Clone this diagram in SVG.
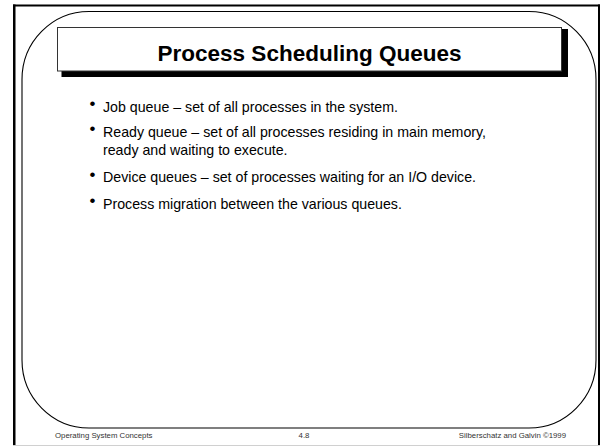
<svg xmlns="http://www.w3.org/2000/svg" width="602" height="446" viewBox="0 0 602 446">
  <style>
    .body { font-family: "Liberation Sans", Arial, sans-serif; font-size: 14.2px; fill: #000; }
    .bul { font-family: "Liberation Sans", Arial, sans-serif; font-size: 17px; fill: #000; }
    .foot { font-family: "Liberation Sans", Arial, sans-serif; font-size: 7.8px; fill: #333; }
    .title { font-family: "Liberation Sans", Arial, sans-serif; font-size: 22.5px; font-weight: bold; fill: #000; }
  </style>
  <rect x="0" y="0" width="602" height="446" fill="#fff"/>

  <!-- page frame -->
  <g id="frame">
    <rect x="13" y="4.5" width="587" height="2" fill="#000"/>
    <rect x="13" y="4.5" width="2.5" height="441.5" fill="#000"/>
    <rect x="598" y="4.5" width="2" height="441.5" fill="#000"/>
    <rect x="13" y="445" width="587" height="1" fill="#d0d0d0"/>
  </g>

  <!-- rounded content panel -->
  <g id="panel">
    <rect x="22" y="11.5" width="574" height="416.5" rx="67" ry="68" fill="none" stroke="#000" stroke-width="1.1"/>
  </g>

  <!-- title box with drop shadow -->
  <g id="title">
    <rect x="61.5" y="29" width="506.5" height="48" fill="#000"/>
    <rect x="57.5" y="27.5" width="504" height="43.5" fill="#fff" stroke="#333" stroke-width="1"/>
    <text class="title" x="309.5" y="60.5" text-anchor="middle">Process Scheduling Queues</text>
  </g>

  <!-- bullet list -->
  <g id="bullets">
    <text class="bul" x="89.5" y="109">•</text>
    <text class="body" x="103" y="111.7">Job queue – set of all processes in the system.</text>
    <text class="bul" x="89.5" y="134">•</text>
    <text class="body" x="103" y="136.7">Ready queue – set of all processes residing in main memory,</text>
    <text class="body" x="103" y="155">ready and waiting to execute.</text>
    <text class="bul" x="89.5" y="179.6">•</text>
    <text class="body" x="103" y="182.3">Device queues – set of processes waiting for an I/O device.</text>
    <text class="bul" x="89.5" y="206.3">•</text>
    <text class="body" x="103" y="209">Process migration between the various queues.</text>
  </g>

  <!-- footer -->
  <g id="footer">
    <text class="foot" x="55" y="438.3">Operating System Concepts</text>
    <text class="foot" x="304" y="438.3" text-anchor="middle">4.8</text>
    <text class="foot" x="566" y="438.3" text-anchor="end">Silberschatz and Galvin ©1999</text>
  </g>
</svg>
